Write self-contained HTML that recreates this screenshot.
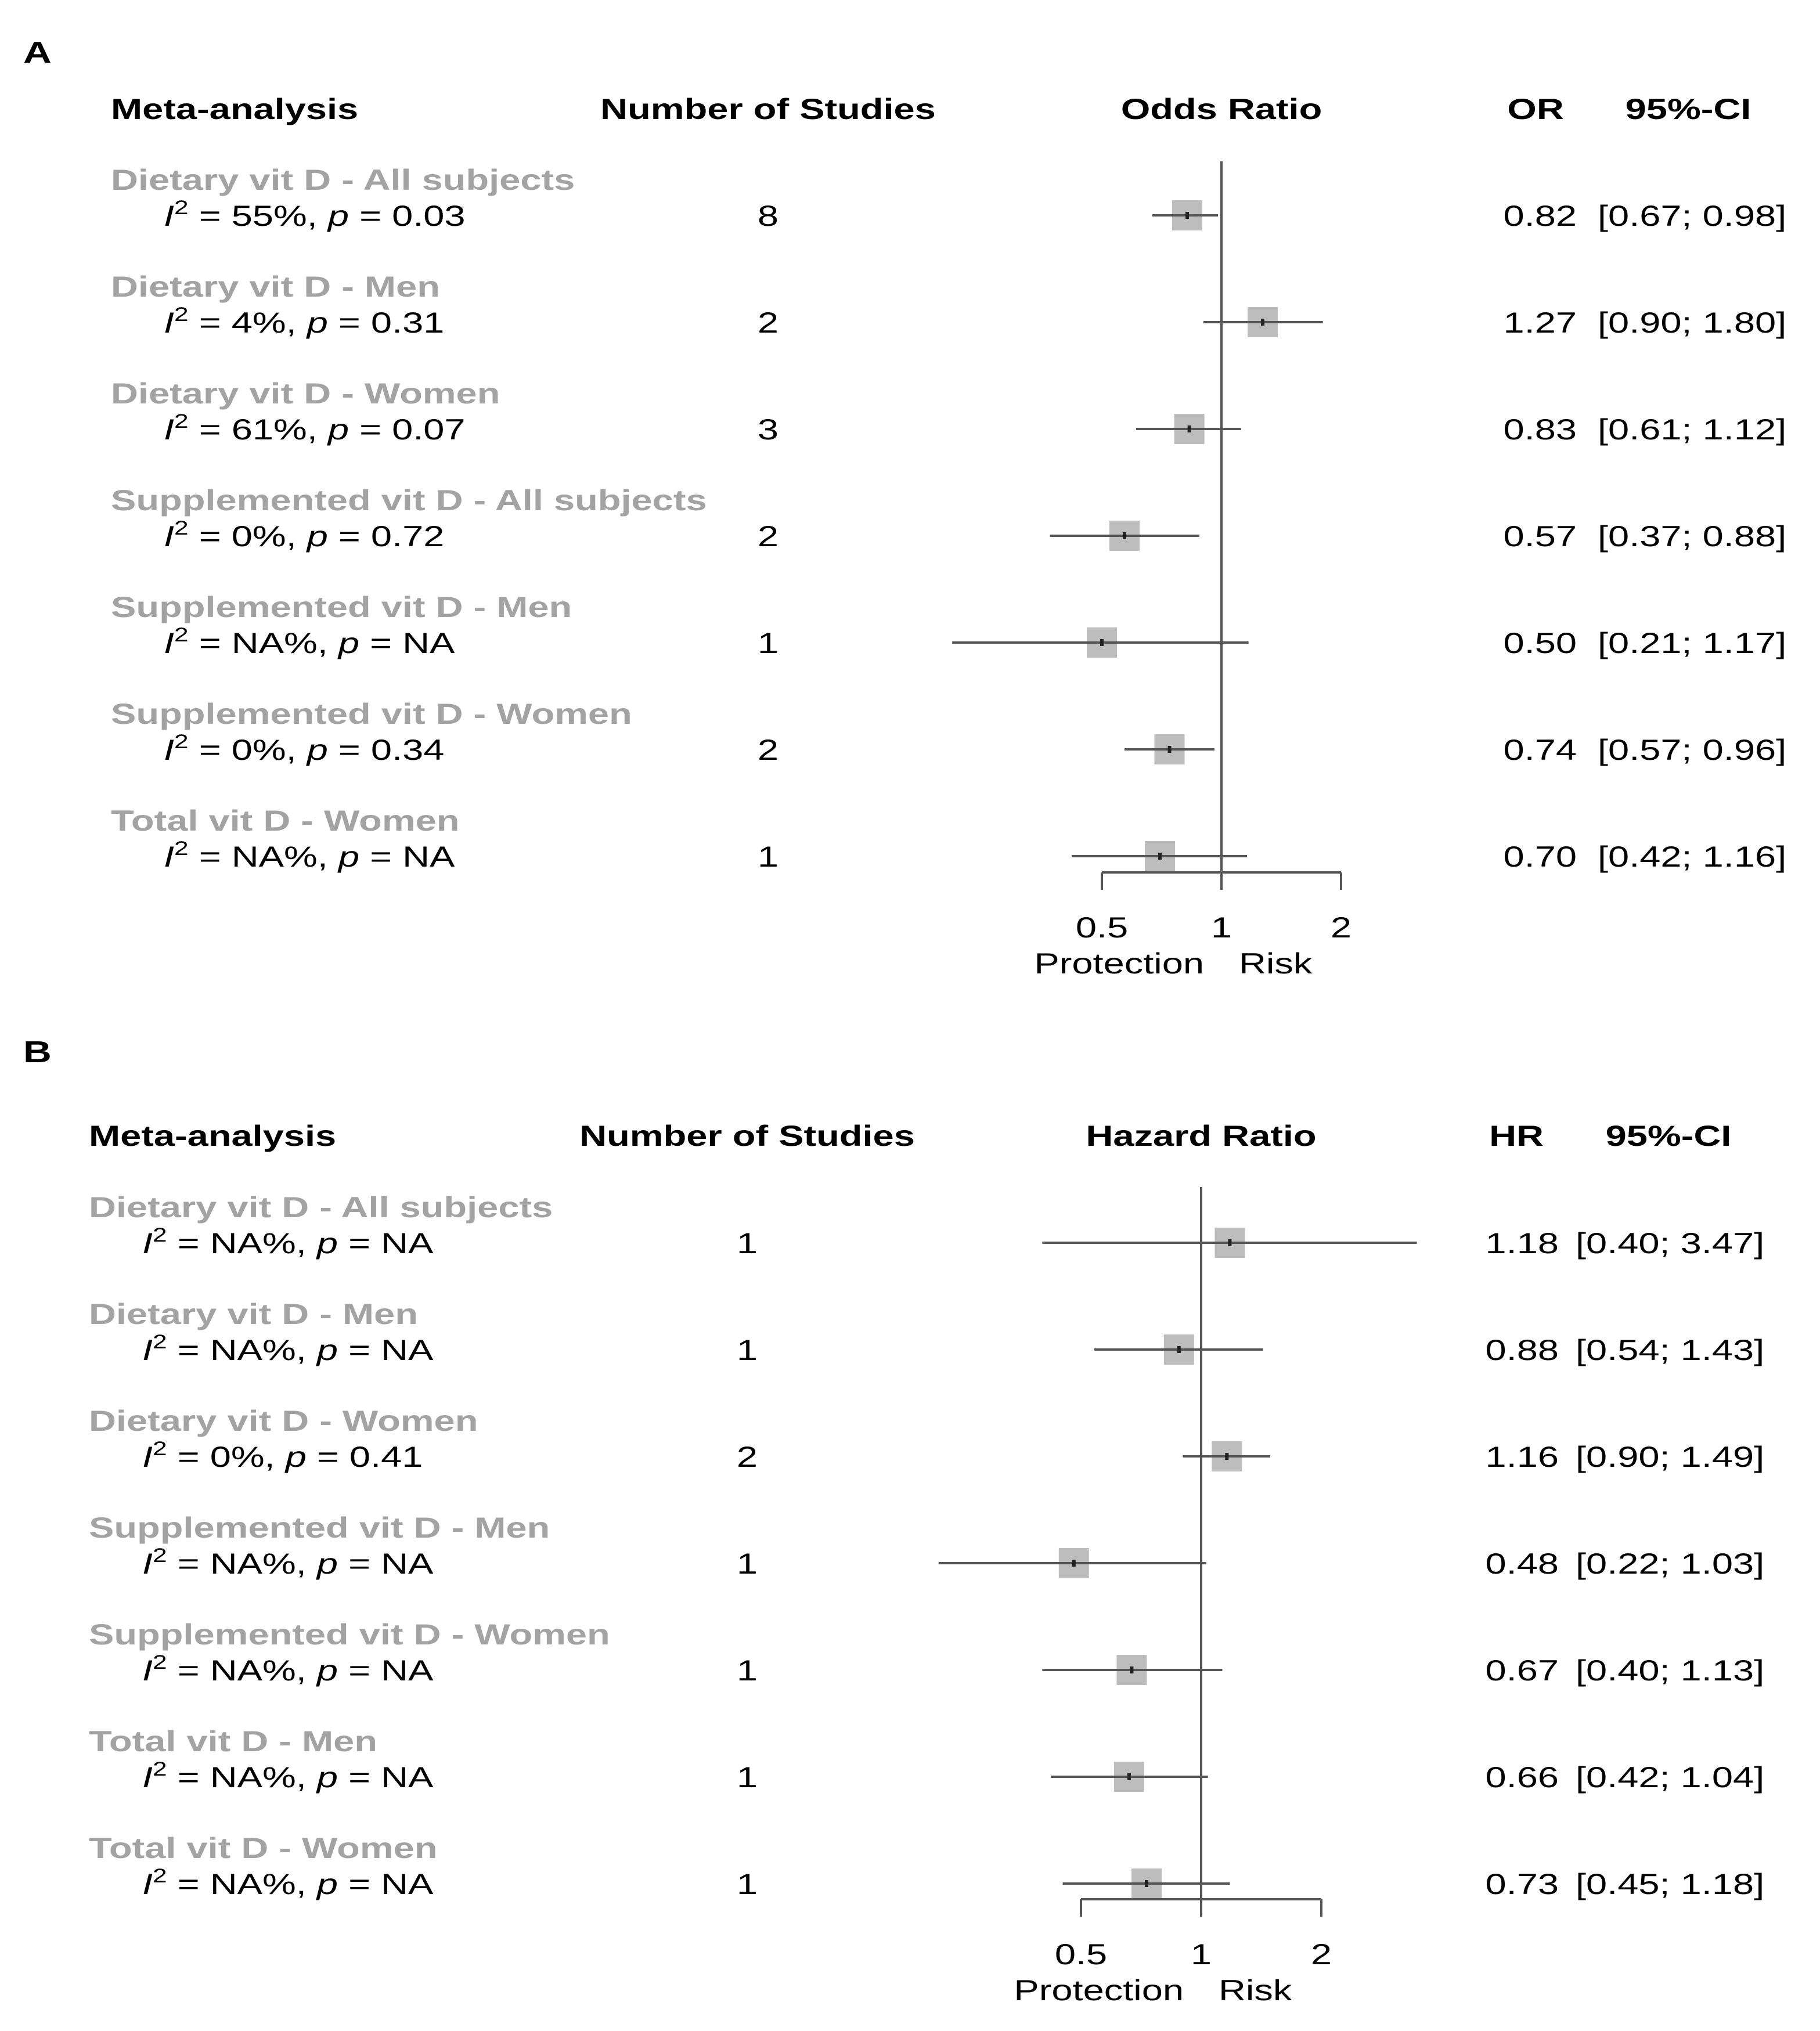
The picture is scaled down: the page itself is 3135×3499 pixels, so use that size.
<!DOCTYPE html>
<html><head><meta charset="utf-8"><style>
html,body{margin:0;padding:0;background:#fff}
svg{display:block}
text{font-family:"Liberation Sans",Arial,sans-serif}
</style></head><body>
<svg id="chart" width="3135" height="3499" viewBox="0 0 3135 3499" xmlns="http://www.w3.org/2000/svg"></svg>
<script>
const labelsA = ["Dietary vit D - All subjects","Dietary vit D - Men","Dietary vit D - Women","Supplemented vit D - All subjects","Supplemented vit D - Men","Supplemented vit D - Women","Total vit D - Women"];
const i2A = ["55%","4%","61%","0%","NA%","0%","NA%"];
const pA = ["0.03","0.31","0.07","0.72","NA","0.34","NA"];
const nA = [8,2,3,2,1,2,1];
const estA = [0.82,1.27,0.83,0.57,0.50,0.74,0.70];
const lowA = [0.67,0.90,0.61,0.37,0.21,0.57,0.42];
const highA = [0.98,1.80,1.12,0.88,1.17,0.96,1.16];

const labelsB = ["Dietary vit D - All subjects","Dietary vit D - Men","Dietary vit D - Women","Supplemented vit D - Men","Supplemented vit D - Women","Total vit D - Men","Total vit D - Women"];
const i2B = ["NA%","NA%","0%","NA%","NA%","NA%","NA%"];
const pB = ["NA","NA","0.41","NA","NA","NA","NA"];
const nB = [1,1,2,1,1,1,1];
const estB = [1.18,0.88,1.16,0.48,0.67,0.66,0.73];
const lowB = [0.40,0.54,0.90,0.22,0.40,0.42,0.45];
const highB = [3.47,1.43,1.49,1.03,1.13,1.04,1.18];
const ticks = [0.5,1,2];
const tickLabels = ["0.5","1","2"];

const NS="http://www.w3.org/2000/svg";
const svg=document.getElementById('chart');
const SX=1.3;
function mk(tag,attrs,parent){const e=document.createElementNS(NS,tag);for(const k in attrs)e.setAttribute(k,attrs[k]);(parent||svg).appendChild(e);return e;}
function txt(s,x,y,opts,parent){
  const g=mk('g',{transform:'translate('+x+','+y+') scale('+SX+',1)'},parent);
  const t=mk('text',Object.assign({x:0,y:0,'font-size':50,fill:'#000'},opts||{}),g);
  t.textContent=s;return t;}
const fmt=v=>v.toFixed(2);

function panel(cfg){
  const g=mk('g',{});
  
  
  const xs=v=>cfg.x1+Math.log2(v)*cfg.unit;
  const t=txt(cfg.letter,cfg.letterX,cfg.letterY,{'font-weight':'bold','font-size':52},g);
  
  const hdr=[["Meta-analysis",cfg.labelX,'start'],["Number of Studies",cfg.nX,'middle'],[cfg.title,cfg.x1,'middle'],[cfg.est,cfg.estHX,'middle'],["95%-CI",cfg.ciHX,'middle']];
  hdr.forEach(h=>{const e=txt(h[0],h[1],cfg.headY,{'font-weight':'bold','text-anchor':h[2]},g);
    });
  const rl=mk('line',{x1:cfg.x1,x2:cfg.x1,y1:cfg.refTop,y2:cfg.axisY+30,stroke:'#555','stroke-width':4},g);
  
  cfg.labels.forEach((lab,i)=>{
    const y=cfg.row0+i*cfg.step;
    const row=mk('g',{},g);
    
    const l=txt(lab,cfg.labelX,y-44,{fill:'#a3a3a3','font-weight':'bold'},row);
    
    const sg=mk('g',{transform:'translate('+cfg.statX+','+(y+18)+') scale('+SX+',1)'},row);
    const st=mk('text',{x:0,y:0,'font-size':50,fill:'#000'},sg);
    
    st.innerHTML='<tspan font-style="italic">I</tspan><tspan dy="-20" font-size="34">2</tspan><tspan dy="20"> = '+cfg.i2[i]+', </tspan><tspan font-style="italic">p</tspan><tspan> = '+cfg.p[i]+'</tspan>';
    const n=txt(String(cfg.n[i]),cfg.nX,y+18,{'text-anchor':'middle'},row);
    
    const sq=mk('rect',{x:xs(cfg.e[i])-26,y:y-26,width:52,height:52,fill:'#bdbdbd'},row);
    
    const ci=mk('line',{x1:xs(cfg.lo[i]),x2:xs(cfg.hi[i]),y1:y,y2:y,stroke:'#555','stroke-width':4},row);
    
    const dot=mk('rect',{x:xs(cfg.e[i])-3,y:y-6,width:6,height:12,fill:'#222'},row);
    
    const ev=txt(fmt(cfg.e[i]),cfg.estRX,y+18,{'text-anchor':'end'},row);
    
    const cv=txt('['+fmt(cfg.lo[i])+'; '+fmt(cfg.hi[i])+']',cfg.ciX,y+18,{},row);
    
  });
  const ax=mk('g',{},g);
  
  mk('line',{x1:xs(ticks[0]),x2:xs(ticks[ticks.length-1]),y1:cfg.axisY,y2:cfg.axisY,stroke:'#555','stroke-width':4},ax);
  ticks.forEach((v,i)=>{
    mk('line',{x1:xs(v),x2:xs(v),y1:cfg.axisY,y2:cfg.axisY+30,stroke:'#555','stroke-width':4},ax);
    const tl=txt(tickLabels[i],xs(v),cfg.axisY+112,{'text-anchor':'middle'},ax);
    
  });
  const pr=txt("Protection",xs(1)-30,cfg.axisY+174,{'text-anchor':'end'},ax);
  
  const rk=txt("Risk",xs(1)+30,cfg.axisY+174,{},ax);
  
}
panel({name:'panel-a',letter:'A',letterX:40,letterY:108,headY:205,labelX:191,statX:282,nX:1323,x1:2104,unit:206,
  title:'Odds Ratio',est:'OR',estHX:2645,ciHX:2908,estRX:2716,ciX:2752,refTop:278,row0:371,step:184,axisY:1503,
  labels:labelsA,i2:i2A,p:pA,n:nA,e:estA,lo:lowA,hi:highA});
panel({name:'panel-b',letter:'B',letterX:40,letterY:1830,headY:1974,labelX:153,statX:245,nX:1287,x1:2069,unit:207,
  title:'Hazard Ratio',est:'HR',estHX:2612,ciHX:2874,estRX:2685,ciX:2714,refTop:2045,row0:2141,step:184,axisY:3272,
  labels:labelsB,i2:i2B,p:pB,n:nB,e:estB,lo:lowB,hi:highB});
</script>
</body></html>
